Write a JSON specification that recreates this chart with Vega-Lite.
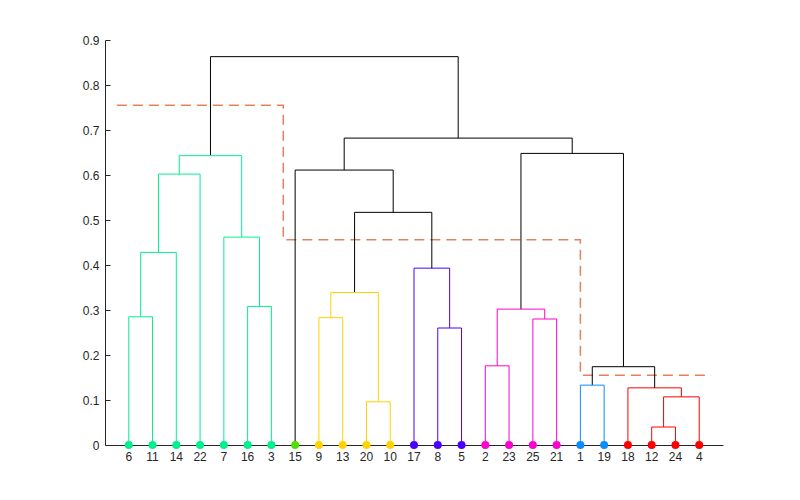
{
  "$schema": "https://vega.github.io/schema/vega-lite/v6.json",
  "width": 618,
  "height": 405,
  "autosize": {"type": "none"},
  "padding": {"left": 105, "top": 40, "right": 77, "bottom": 55},
  "background": "white",
  "config": {
    "view": {"stroke": null},
    "font": "Liberation Sans",
    "axis": {
      "labelFont": "Liberation Sans",
      "labelFontSize": 12,
      "labelColor": "#262626",
      "domainColor": "#262626",
      "tickColor": "#262626",
      "grid": false,
      "title": null,
      "labelOverlap": false,
      "labelFlush": false
    }
  },
  "datasets": {
    "links": [
      {"xl": 1, "xr": 2, "hl": 0, "hr": 0, "h": 0.285, "c": "G"},
      {"xl": 1.5, "xr": 3, "hl": 0.285, "hr": 0, "h": 0.428, "c": "G"},
      {"xl": 2.25, "xr": 4, "hl": 0.428, "hr": 0, "h": 0.602, "c": "G"},
      {"xl": 6, "xr": 7, "hl": 0, "hr": 0, "h": 0.308, "c": "G"},
      {"xl": 5, "xr": 6.5, "hl": 0, "hr": 0.308, "h": 0.462, "c": "G"},
      {"xl": 3.125, "xr": 5.75, "hl": 0.602, "hr": 0.462, "h": 0.643, "c": "G"},
      {"xl": 9, "xr": 10, "hl": 0, "hr": 0, "h": 0.283, "c": "Y"},
      {"xl": 11, "xr": 12, "hl": 0, "hr": 0, "h": 0.096, "c": "Y"},
      {"xl": 9.5, "xr": 11.5, "hl": 0.283, "hr": 0.096, "h": 0.339, "c": "Y"},
      {"xl": 14, "xr": 15, "hl": 0, "hr": 0, "h": 0.26, "c": "P"},
      {"xl": 13, "xr": 14.5, "hl": 0, "hr": 0.26, "h": 0.393, "c": "P"},
      {"xl": 10.5, "xr": 13.75, "hl": 0.339, "hr": 0.393, "h": 0.517, "c": "K"},
      {"xl": 8, "xr": 12.125, "hl": 0, "hr": 0.517, "h": 0.611, "c": "K"},
      {"xl": 16, "xr": 17, "hl": 0, "hr": 0, "h": 0.176, "c": "M"},
      {"xl": 18, "xr": 19, "hl": 0, "hr": 0, "h": 0.28, "c": "M"},
      {"xl": 16.5, "xr": 18.5, "hl": 0.176, "hr": 0.28, "h": 0.302, "c": "M"},
      {"xl": 20, "xr": 21, "hl": 0, "hr": 0, "h": 0.133, "c": "B"},
      {"xl": 23, "xr": 24, "hl": 0, "hr": 0, "h": 0.04, "c": "R"},
      {"xl": 23.5, "xr": 25, "hl": 0.04, "hr": 0, "h": 0.107, "c": "R"},
      {"xl": 22, "xr": 24.25, "hl": 0, "hr": 0.107, "h": 0.127, "c": "R"},
      {"xl": 20.5, "xr": 23.125, "hl": 0.133, "hr": 0.127, "h": 0.174, "c": "K"},
      {"xl": 17.5, "xr": 21.8125, "hl": 0.302, "hr": 0.174, "h": 0.648, "c": "K"},
      {"xl": 10.0625, "xr": 19.65625, "hl": 0.611, "hr": 0.648, "h": 0.682, "c": "K"},
      {"xl": 4.4375, "xr": 14.859375, "hl": 0.643, "hr": 0.682, "h": 0.863, "c": "K"}
    ],
    "leaves": [
      {"pos": 1, "label": "6", "c": "G"},
      {"pos": 2, "label": "11", "c": "G"},
      {"pos": 3, "label": "14", "c": "G"},
      {"pos": 4, "label": "22", "c": "G"},
      {"pos": 5, "label": "7", "c": "G"},
      {"pos": 6, "label": "16", "c": "G"},
      {"pos": 7, "label": "3", "c": "G"},
      {"pos": 8, "label": "15", "c": "L"},
      {"pos": 9, "label": "9", "c": "Y"},
      {"pos": 10, "label": "13", "c": "Y"},
      {"pos": 11, "label": "20", "c": "Y"},
      {"pos": 12, "label": "10", "c": "Y"},
      {"pos": 13, "label": "17", "c": "P"},
      {"pos": 14, "label": "8", "c": "P"},
      {"pos": 15, "label": "5", "c": "P"},
      {"pos": 16, "label": "2", "c": "M"},
      {"pos": 17, "label": "23", "c": "M"},
      {"pos": 18, "label": "25", "c": "M"},
      {"pos": 19, "label": "21", "c": "M"},
      {"pos": 20, "label": "1", "c": "B"},
      {"pos": 21, "label": "19", "c": "B"},
      {"pos": 22, "label": "18", "c": "R"},
      {"pos": 23, "label": "12", "c": "R"},
      {"pos": 24, "label": "24", "c": "R"},
      {"pos": 25, "label": "4", "c": "R"}
    ],
    "cut": [
      {"o": 1, "x": 0.5, "y": 0.755},
      {"o": 2, "x": 7.5, "y": 0.755},
      {"o": 3, "x": 7.5, "y": 0.456},
      {"o": 4, "x": 20, "y": 0.456},
      {"o": 5, "x": 20, "y": 0.155},
      {"o": 6, "x": 25.5, "y": 0.155}
    ]
  },
  "layer": [
    {
      "data": {"name": "cut"},
      "mark": {"type": "line", "color": "#E8805E", "strokeWidth": 1.5, "strokeDash": [10, 6]},
      "encoding": {
        "x": {"field": "x", "type": "quantitative", "scale": {"domain": [0, 26], "nice": false, "zero": false},
          "axis": {"values": [], "ticks": false, "labels": false}},
        "y": {"field": "y", "type": "quantitative", "scale": {"domain": [0, 0.9], "nice": false},
          "axis": {"values": [0,0.1,0.2,0.3,0.4,0.5,0.6,0.7,0.8,0.9], "format": ".1~f", "tickSize": -5, "labelPadding": 11, "labelOverlap": false}},
        "order": {"field": "o", "type": "quantitative"}
      }
    },
    {
      "data": {"name": "links"},
      "mark": {"type": "rule", "strokeWidth": 1},
      "encoding": {
        "x": {"field": "xl", "type": "quantitative"},
        "y": {"field": "hl", "type": "quantitative"},
        "y2": {"field": "h"},
        "color": {"field": "c", "type": "nominal", "legend": null,
          "scale": {"domain": ["G","L","Y","P","M","B","R","K"], "range": ["#00F090","#50E000","#FFD200","#4B00FF","#FF00D0","#0A8CFF","#FF0000","#000000"]}}
      }
    },
    {
      "data": {"name": "links"},
      "mark": {"type": "rule", "strokeWidth": 1},
      "encoding": {
        "x": {"field": "xl", "type": "quantitative"},
        "x2": {"field": "xr"},
        "y": {"field": "h", "type": "quantitative"},
        "color": {"field": "c", "type": "nominal", "legend": null}
      }
    },
    {
      "data": {"name": "links"},
      "mark": {"type": "rule", "strokeWidth": 1},
      "encoding": {
        "x": {"field": "xr", "type": "quantitative"},
        "y": {"field": "hr", "type": "quantitative"},
        "y2": {"field": "h"},
        "color": {"field": "c", "type": "nominal", "legend": null}
      }
    },
    {
      "data": {"name": "leaves"},
      "mark": {"type": "point", "filled": true, "opacity": 1, "size": 64, "shape": "circle"},
      "encoding": {
        "x": {"field": "pos", "type": "quantitative"},
        "y": {"datum": 0, "type": "quantitative"},
        "color": {"field": "c", "type": "nominal", "legend": null}
      }
    },
    {
      "data": {"name": "leaves"},
      "mark": {"type": "text", "baseline": "top", "align": "center", "dy": 7, "fontSize": 12, "font": "Liberation Sans", "color": "#262626"},
      "encoding": {
        "x": {"field": "pos", "type": "quantitative"},
        "y": {"datum": 0, "type": "quantitative"},
        "text": {"field": "label"}
      }
    }
  ]
}
